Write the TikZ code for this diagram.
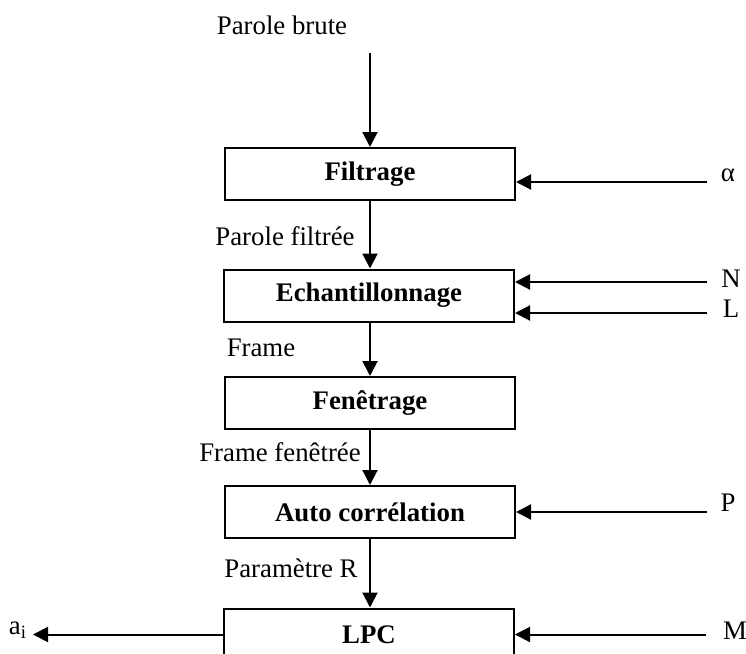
\documentclass[tikz,border=0pt]{standalone}
\usepackage{fontspec}
\setmainfont{Liberation Serif}
\usetikzlibrary{arrows.meta}

\tikzset{
  bloc/.style={draw, line width=1pt, minimum width=145pt, minimum height=26pt,
    inner sep=0pt, font=\fontsize{13.4}{16}\selectfont\bfseries},
  lbl/.style={inner sep=0pt, font=\fontsize{13.4}{16}\selectfont},
  fleche/.style={line width=1pt, -{Triangle[length=7.5pt,width=7.5pt]}},
}

\begin{document}
\begin{tikzpicture}[x=0.5pt, y=-0.5pt] %% one unit = one pixel of the layout
	 \useasboundingbox (0,0) rectangle (746,654);
	 \clip (0,0) rectangle (746,654);
	 % chain of blocks
	 \node[bloc] (filtrage) at (370,174) {Filtrage};
	 \node[bloc] (echant) at (369,295.5) {Echantillonnage};
	 \node[bloc] (fenetrage) at (370,403) {Fenêtrage};
	 \node[bloc] (autocorr) at (370,512) {Auto corrélation};
	 \node[bloc] (lpc) at (369,634.5) {LPC};
	 %
	 \node[lbl] (brute) at (282,25) {Parole brute};
	 \node[lbl] (filtree) at (285,236) {Parole filtrée};
	 \node[lbl] (frame) at (261,348) {Frame};
	 \node[lbl] (fenetree) at (280,452) {Frame fenêtrée};
	 \node[lbl] (paramR) at (291,568) {Paramètre R};
	 %
	 \coordinate (entree) at (370,53);
	 \draw[fleche] (entree) -- (filtrage);
	 \draw[fleche] (filtrage) -- (filtrage |- echant.north);
	 \draw[fleche] (filtrage |- echant.south) -- (fenetrage);
	 \draw[fleche] (fenetrage) -- (autocorr);
	 \draw[fleche] (autocorr) -- (autocorr |- lpc.north);
	 % parameters on the right
	 \coordinate (alphaIn) at (707,182);
	 \coordinate (nIn) at (707,282);
	 \coordinate (lIn) at (707,313);
	 \coordinate (pIn) at (707,512);
	 \coordinate (mIn) at (706,634.5);
	 \draw[fleche] (alphaIn) -- (alphaIn -| filtrage.east);
	 \draw[fleche] (nIn) -- (nIn -| echant.east);
	 \draw[fleche] (lIn) -- (lIn -| echant.east);
	 \draw[fleche] (pIn) -- (autocorr);
	 \draw[fleche] (mIn) -- (lpc);
	 \node[lbl] (alpha) at (728,175) {α};
	 \node[lbl] (nLbl) at (731,279) {N};
	 \node[lbl] (lLbl) at (731,309) {L};
	 \node[lbl] (pLbl) at (728,503) {P};
	 \node[lbl] (mLbl) at (735,631) {M};
	 % output
	 \coordinate (aiOut) at (33,634.5);
	 \draw[fleche] (lpc) -- (aiOut);
	 \node[lbl] (ai) at (18,630) {a\textsubscript{i}};
\end{tikzpicture}
\end{document}
